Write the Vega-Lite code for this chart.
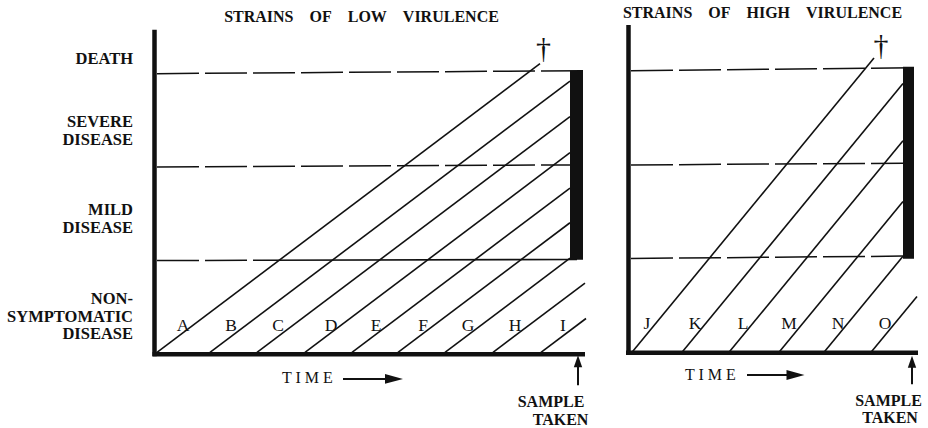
{
  "$schema": "https://vega.github.io/schema/vega-lite/v6.json",
  "width": 928,
  "height": 428,
  "autosize": {"type": "fit", "contains": "padding"},
  "padding": 0,
  "background": "white",
  "config": {"view": {"stroke": null}},
  "datasets": {
    "lines": [
      {"x": 154.5, "y": 30, "x2": 154.5, "y2": 358, "kind": "axis"},
      {"x": 152.5, "y": 356, "x2": 585, "y2": 356, "kind": "axis"},
      {"x": 628.5, "y": 25, "x2": 628.5, "y2": 356.5, "kind": "axis"},
      {"x": 626, "y": 354.3, "x2": 918, "y2": 354.3, "kind": "axis"},

      {"x": 157, "y": 74, "x2": 583, "y2": 71, "kind": "dash"},
      {"x": 157, "y": 167.7, "x2": 570, "y2": 165.7, "kind": "dash"},
      {"x": 157, "y": 261.7, "x2": 262, "y2": 261.5, "kind": "dash"},
      {"x": 631, "y": 71, "x2": 913, "y2": 68, "kind": "dash"},
      {"x": 631, "y": 165.7, "x2": 903, "y2": 164, "kind": "dash"},
      {"x": 631, "y": 259.7, "x2": 903, "y2": 257.3, "kind": "dash"},

      {"x": 262, "y": 261.5, "x2": 577, "y2": 260.7, "kind": "solid"},
      {"x": 157, "y": 354, "x2": 540, "y2": 64, "kind": "solid"},
      {"x": 210, "y": 354, "x2": 570, "y2": 81.5, "kind": "solid"},
      {"x": 257, "y": 354, "x2": 570, "y2": 117.1, "kind": "solid"},
      {"x": 305, "y": 354, "x2": 570, "y2": 153.4, "kind": "solid"},
      {"x": 352, "y": 354, "x2": 570, "y2": 189, "kind": "solid"},
      {"x": 398, "y": 354, "x2": 570, "y2": 223.8, "kind": "solid"},
      {"x": 445, "y": 354, "x2": 570, "y2": 259.4, "kind": "solid"},
      {"x": 493, "y": 354, "x2": 585, "y2": 284.4, "kind": "solid"},
      {"x": 541, "y": 354, "x2": 586, "y2": 320, "kind": "solid"},
      {"x": 632, "y": 354, "x2": 874, "y2": 58.3, "kind": "solid"},
      {"x": 682, "y": 354, "x2": 903, "y2": 84, "kind": "solid"},
      {"x": 729, "y": 354, "x2": 903, "y2": 141.4, "kind": "solid"},
      {"x": 779, "y": 354, "x2": 903, "y2": 202.5, "kind": "solid"},
      {"x": 824, "y": 354, "x2": 903, "y2": 257.5, "kind": "solid"},
      {"x": 871, "y": 354, "x2": 917, "y2": 297.8, "kind": "solid"},

      {"x": 343, "y": 380.7, "x2": 388, "y2": 380.7, "kind": "arrow"},
      {"x": 747, "y": 376.7, "x2": 790, "y2": 376.7, "kind": "arrow"},
      {"x": 578, "y": 366, "x2": 578, "y2": 387, "kind": "arrow"},
      {"x": 912, "y": 367, "x2": 912, "y2": 386, "kind": "arrow"}
    ],
    "bars": [
      {"x": 570, "y": 71, "x2": 583, "y2": 261},
      {"x": 903, "y": 67, "x2": 914, "y2": 260}
    ],
    "heads": [
      {"x": 394, "y": 380.7, "dir": "right"},
      {"x": 795.5, "y": 376.7, "dir": "right"},
      {"x": 578, "y": 363, "dir": "up"},
      {"x": 912, "y": 363.5, "dir": "up"}
    ],
    "texts": [
      {"x": 133, "y": 64.3, "t": "DEATH", "g": "ylab"},
      {"x": 133, "y": 127.7, "t": "SEVERE", "g": "ylab"},
      {"x": 133, "y": 145.3, "t": "DISEASE", "g": "ylab"},
      {"x": 133, "y": 216, "t": "MILD", "g": "ylab"},
      {"x": 133, "y": 234, "t": "DISEASE", "g": "ylab"},
      {"x": 133, "y": 305, "t": "NON-", "g": "ylab"},
      {"x": 133, "y": 323.3, "t": "SYMPTOMATIC", "g": "ylab"},
      {"x": 133, "y": 340.7, "t": "DISEASE", "g": "ylab"},

      {"x": 361.5, "y": 22.3, "t": "STRAINS\u2003OF\u2003LOW\u2003VIRULENCE", "g": "boldc"},
      {"x": 762.5, "y": 18.3, "t": "STRAINS\u2003OF\u2003HIGH\u2003VIRULENCE", "g": "boldc"},
      {"x": 551, "y": 409, "t": "SAMPLE", "g": "boldc"},
      {"x": 560.5, "y": 426.5, "t": "TAKEN", "g": "boldc"},
      {"x": 888.5, "y": 408, "t": "SAMPLE", "g": "boldc"},
      {"x": 890, "y": 424.7, "t": "TAKEN", "g": "boldc"},

      {"x": 183, "y": 333, "t": "A", "g": "letter"},
      {"x": 231, "y": 333, "t": "B", "g": "letter"},
      {"x": 278, "y": 333, "t": "C", "g": "letter"},
      {"x": 331, "y": 333, "t": "D", "g": "letter"},
      {"x": 376, "y": 333, "t": "E", "g": "letter"},
      {"x": 423, "y": 333, "t": "F", "g": "letter"},
      {"x": 468, "y": 333, "t": "G", "g": "letter"},
      {"x": 515, "y": 333, "t": "H", "g": "letter"},
      {"x": 563, "y": 333, "t": "I", "g": "letter"},
      {"x": 647, "y": 330.5, "t": "J", "g": "letter"},
      {"x": 695, "y": 330.5, "t": "K", "g": "letter"},
      {"x": 743, "y": 330.5, "t": "L", "g": "letter"},
      {"x": 789, "y": 330.5, "t": "M", "g": "letter"},
      {"x": 838, "y": 330.5, "t": "N", "g": "letter"},
      {"x": 885, "y": 330.5, "t": "O", "g": "letter"},

      {"x": 282, "y": 385, "t": "T I M E", "g": "time"},
      {"x": 685, "y": 381.3, "t": "T I M E", "g": "time"},

      {"x": 543.5, "y": 58.5, "t": "\u2020", "g": "dagger"},
      {"x": 881, "y": 55.5, "t": "\u2020", "g": "dagger"}
    ]
  },
  "encoding": {
    "x": {"field": "x", "type": "quantitative", "scale": {"domain": [0, 928], "nice": false, "zero": false}, "axis": null},
    "y": {"field": "y", "type": "quantitative", "scale": {"domain": [0, 428], "reverse": true, "nice": false, "zero": false}, "axis": null}
  },
  "layer": [
    {
      "data": {"name": "lines"},
      "transform": [{"filter": "datum.kind == 'dash'"}],
      "mark": {"type": "rule", "color": "#111", "strokeWidth": 1.5, "strokeDash": [42, 6]},
      "encoding": {"x2": {"field": "x2"}, "y2": {"field": "y2"}}
    },
    {
      "data": {"name": "lines"},
      "transform": [{"filter": "datum.kind == 'solid'"}],
      "mark": {"type": "rule", "color": "#111", "strokeWidth": 1.6},
      "encoding": {"x2": {"field": "x2"}, "y2": {"field": "y2"}}
    },
    {
      "data": {"name": "lines"},
      "transform": [{"filter": "datum.kind == 'arrow'"}],
      "mark": {"type": "rule", "color": "#111", "strokeWidth": 2},
      "encoding": {"x2": {"field": "x2"}, "y2": {"field": "y2"}}
    },
    {
      "data": {"name": "lines"},
      "transform": [{"filter": "datum.kind == 'axis'"}],
      "mark": {"type": "rule", "color": "#111", "strokeWidth": 4.5},
      "encoding": {"x2": {"field": "x2"}, "y2": {"field": "y2"}}
    },
    {
      "data": {"name": "bars"},
      "mark": {"type": "rect", "color": "#111"},
      "encoding": {"x2": {"field": "x2"}, "y2": {"field": "y2"}}
    },
    {
      "data": {"name": "heads"},
      "transform": [{"filter": "datum.dir == 'right'"}],
      "mark": {"type": "point", "filled": true, "color": "#111", "opacity": 1, "strokeWidth": 0, "size": 324, "shape": "M-1,-0.55L1,0L-1,0.55Z"}
    },
    {
      "data": {"name": "heads"},
      "transform": [{"filter": "datum.dir == 'up'"}],
      "mark": {"type": "point", "filled": true, "color": "#111", "opacity": 1, "strokeWidth": 0, "size": 144, "shape": "M-0.7,1L0,-1L0.7,1Z"}
    },
    {
      "data": {"name": "texts"},
      "transform": [{"filter": "datum.g == 'ylab'"}],
      "mark": {"type": "text", "align": "right", "baseline": "alphabetic", "font": "Liberation Serif", "fontWeight": "bold", "fontSize": 16.5, "color": "#111"},
      "encoding": {"text": {"field": "t"}}
    },
    {
      "data": {"name": "texts"},
      "transform": [{"filter": "datum.g == 'boldc'"}],
      "mark": {"type": "text", "align": "center", "baseline": "alphabetic", "font": "Liberation Serif", "fontWeight": "bold", "fontSize": 16, "color": "#111"},
      "encoding": {"text": {"field": "t"}}
    },
    {
      "data": {"name": "texts"},
      "transform": [{"filter": "datum.g == 'letter'"}],
      "mark": {"type": "text", "align": "center", "baseline": "alphabetic", "font": "Liberation Serif", "fontSize": 17.5, "color": "#111"},
      "encoding": {"text": {"field": "t"}}
    },
    {
      "data": {"name": "texts"},
      "transform": [{"filter": "datum.g == 'time'"}],
      "mark": {"type": "text", "align": "left", "baseline": "alphabetic", "font": "Liberation Serif", "fontSize": 16, "color": "#111"},
      "encoding": {"text": {"field": "t"}}
    },
    {
      "data": {"name": "texts"},
      "transform": [{"filter": "datum.g == 'dagger'"}],
      "mark": {"type": "text", "align": "center", "baseline": "alphabetic", "font": "Liberation Serif", "fontSize": 30, "color": "#111"},
      "encoding": {"text": {"field": "t"}}
    }
  ]
}
